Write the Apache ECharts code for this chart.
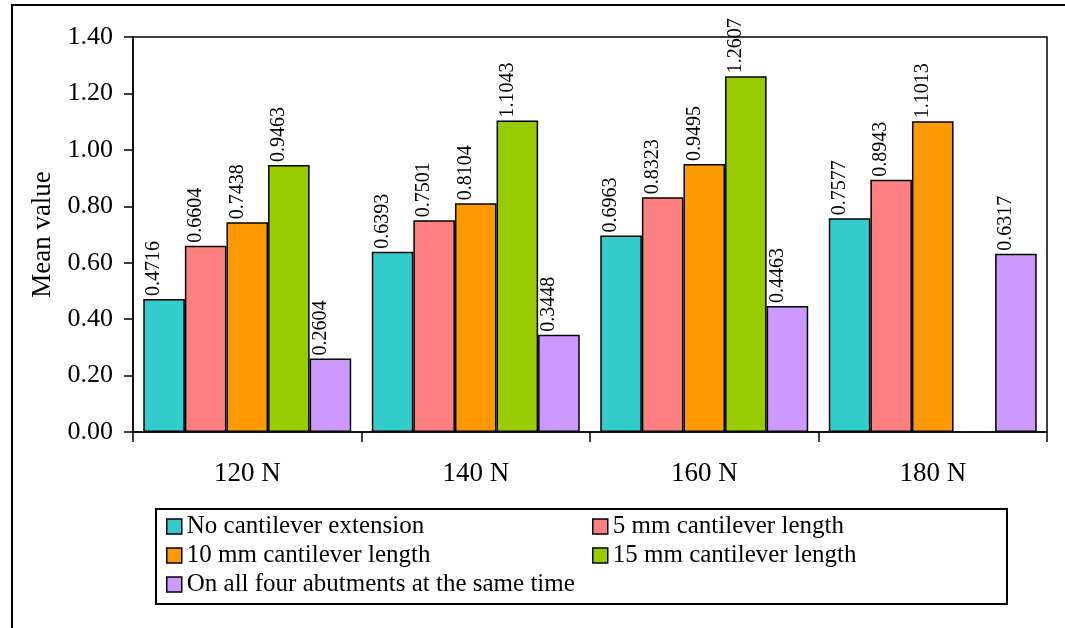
<!DOCTYPE html>
<html>
<head>
<meta charset="utf-8">
<title>Mean value</title>
<script src="https://cdn.jsdelivr.net/npm/echarts@6/dist/echarts.min.js"></script>
<style>
  html, body { margin: 0; padding: 0; background: #fff; }
  #chart { width: 1065px; height: 628px; }
</style>
</head>
<body>
<div id="chart"></div>
<script>
// data
var categories = ["120 N", "140 N", "160 N", "180 N"];
var seriesNames = [
  "No cantilever extension",
  "5 mm cantilever length",
  "10 mm cantilever length",
  "15 mm cantilever length",
  "On all four abutments at the same time"
];
var noExtension = [0.4716, 0.6393, 0.6963, 0.7577];
var len5mm = [0.6604, 0.7501, 0.8323, 0.8943];
var len10mm = [0.7438, 0.8104, 0.9495, 1.1013];
var len15mm = [0.9463, 1.1043, 1.2607, null]; // no bar at 180 N
var allFour = [0.2604, 0.3448, 0.4463, 0.6317];
var yTicks = { min: 0, max: 1.4, interval: 0.2 };

var colors = ["#33CCCC", "#FF8080", "#FF9900", "#99CC00", "#CC99FF"];
var font = "'Liberation Serif', 'Times New Roman', serif";

var myChart = echarts.init(document.getElementById("chart"));

function makeBar(i, values) {
  return {
    name: seriesNames[i],
    type: "bar",
    barGap: "0%",
    barCategoryGap: "9%",
    data: values.map(function (v) { return v == null ? "-" : v; }),
    itemStyle: {
      color: colors[i],
      borderColor: "#000",
      borderWidth: 1.5
    },
    label: {
      show: true,
      position: "top",
      rotate: 90,
      align: "left",
      verticalAlign: "bottom",
      distance: 3,
      fontFamily: font,
      fontSize: 20,
      color: "#000",
      formatter: function (p) { return p.value.toFixed(4); }
    },
    emphasis: { disabled: true }
  };
}

var legendText = { fontFamily: font, fontSize: 25, color: "#000" };
var legendIcon = { borderColor: "#000", borderWidth: 1.5 };

var option = {
  animation: false,
  backgroundColor: "#fff",
  graphic: [
    // outer frame (runs off the right/bottom edge)
    {
      type: "rect",
      shape: { x: 12, y: 5, width: 1070, height: 640 },
      style: { fill: null, stroke: "#000", lineWidth: 2 },
      silent: true
    },
    // legend box
    {
      type: "rect",
      shape: { x: 156, y: 509, width: 851, height: 95 },
      style: { fill: null, stroke: "#000", lineWidth: 2 },
      silent: true
    }
  ],
  grid: {
    left: 133,
    right: 18,
    top: 37,
    bottom: 196,
    show: true,
    borderColor: "#000",
    borderWidth: 1.5,
    containLabel: false
  },
  legend: [
    {
      data: [seriesNames[0], seriesNames[2], seriesNames[4]],
      orient: "vertical",
      left: 166,
      top: 514,
      padding: 0,
      itemGap: 4,
      itemWidth: 15,
      itemHeight: 15,
      icon: "rect",
      selectedMode: false,
      textStyle: legendText,
      itemStyle: legendIcon
    },
    {
      data: [seriesNames[1], seriesNames[3]],
      orient: "vertical",
      left: 592,
      top: 514,
      padding: 0,
      itemGap: 4,
      itemWidth: 15,
      itemHeight: 15,
      icon: "rect",
      selectedMode: false,
      textStyle: legendText,
      itemStyle: legendIcon
    }
  ],
  xAxis: {
    type: "category",
    data: categories,
    axisLine: { show: true, lineStyle: { color: "#000", width: 1.5 } },
    axisTick: { show: true, length: 10, lineStyle: { color: "#000", width: 1.5 } },
    axisLabel: { margin: 28, fontFamily: font, fontSize: 27, color: "#000" },
    splitLine: { show: false }
  },
  yAxis: {
    type: "value",
    min: yTicks.min,
    max: yTicks.max,
    interval: yTicks.interval,
    name: "Mean value",
    nameLocation: "middle",
    nameGap: 76,
    nameTextStyle: { fontFamily: font, fontSize: 27, color: "#000" },
    axisLine: { show: true, lineStyle: { color: "#000", width: 1.5 } },
    axisTick: { show: true, length: 9, lineStyle: { color: "#000", width: 1.5 } },
    axisLabel: {
      margin: 20,
      fontFamily: font,
      fontSize: 26,
      color: "#000",
      formatter: function (v) { return v.toFixed(2); }
    },
    splitLine: { show: false }
  },
  series: [
    makeBar(0, noExtension),
    makeBar(1, len5mm),
    makeBar(2, len10mm),
    makeBar(3, len15mm),
    makeBar(4, allFour)
  ]
};

myChart.setOption(option);
</script>
</body>
</html>
